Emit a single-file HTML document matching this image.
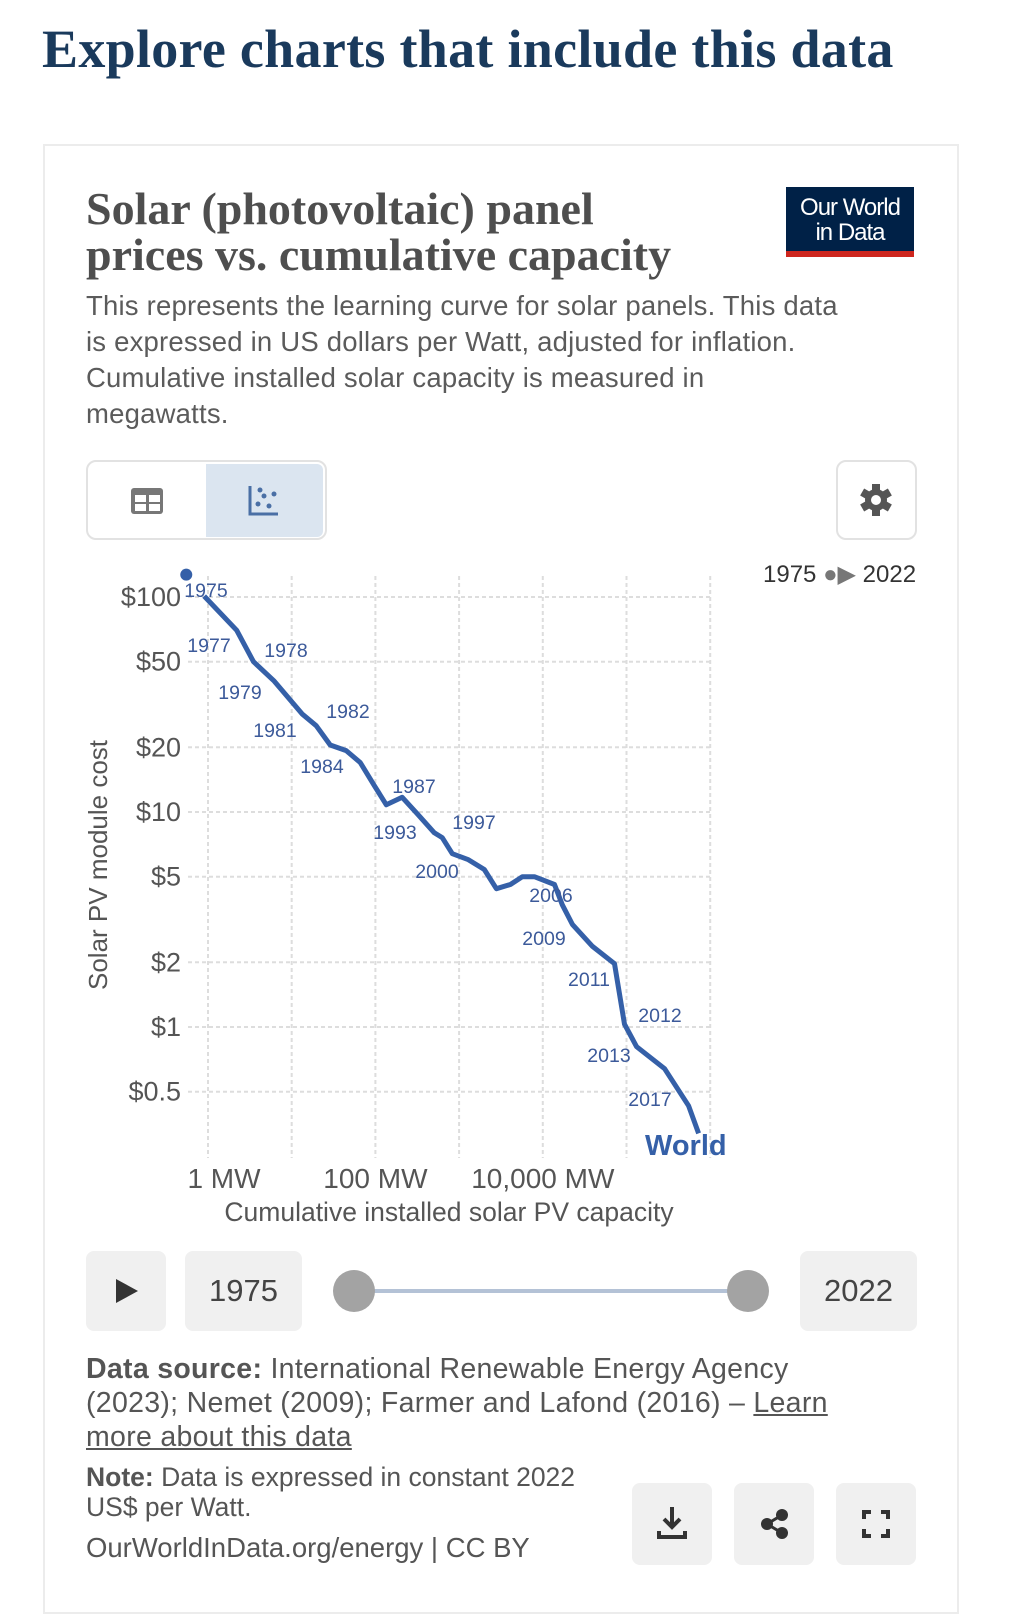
<!DOCTYPE html>
<html><head><meta charset="utf-8">
<style>
body{margin:0;width:1023px;height:1600px;overflow:hidden;background:#fff;font-family:"Liberation Sans",sans-serif;position:relative}
.abs{position:absolute}
.serif{font-family:"Liberation Serif",serif}
.box{position:absolute;border-radius:8px;background:#f0f0f0}
.btn{position:absolute;border:2px solid #e2e2e2;border-radius:10px;background:#fff;box-sizing:border-box}
</style></head><body>
<div class="abs serif" style="left:42px;top:18px;font-size:54px;letter-spacing:0.3px;font-weight:bold;color:#1a3a5c;white-space:nowrap">Explore charts that include this data</div>
<div class="abs" style="left:43px;top:144px;width:916px;height:1470px;border:2px solid #ececec;box-sizing:border-box"></div>
<div class="abs serif" style="left:86px;top:186px;font-size:46px;line-height:46px;color:#4e4e4e;font-weight:bold;white-space:nowrap">Solar (photovoltaic) panel<br>prices vs. cumulative capacity</div>
<div class="abs" style="left:786px;top:187px;width:128px;height:70px;background:#002147;border-bottom:6px solid #ce261e;box-sizing:border-box;color:#fff;font-size:24px;line-height:25px;text-align:center;padding-top:8px;letter-spacing:-1px">Our World<br>in Data</div>
<div class="abs" style="left:86px;top:288px;font-size:27.5px;letter-spacing:0.2px;line-height:36px;color:#5b5b5b;white-space:nowrap">This represents the learning curve for solar panels. This data<br>is expressed in US dollars per Watt, adjusted for inflation.<br>Cumulative installed solar capacity is measured in<br>megawatts.</div>
<div class="btn" style="left:86px;top:460px;width:241px;height:80px"></div>
<div class="abs" style="left:88px;top:462px;width:118px;height:76px">
<svg width="118" height="76"><rect x="43" y="26" width="32" height="26" rx="3" fill="#777"/><rect x="47" y="33" width="11" height="7" fill="#fff"/><rect x="61" y="33" width="11" height="7" fill="#fff"/><rect x="47" y="42" width="11" height="7" fill="#fff"/><rect x="61" y="42" width="11" height="7" fill="#fff"/></svg></div>
<div class="abs" style="left:206px;top:464px;width:117px;height:73px;background:#dbe5f0;border-radius:0 6px 6px 0">
<svg width="117" height="73"><path d="M44 22 V50 H72" stroke="#4a6fa5" stroke-width="3" fill="none"/><circle cx="52" cy="40" r="2.5" fill="#4a6fa5"/><circle cx="58" cy="32" r="2.5" fill="#4a6fa5"/><circle cx="63" cy="42" r="2.5" fill="#4a6fa5"/><circle cx="68" cy="30" r="2.5" fill="#4a6fa5"/><circle cx="54" cy="26" r="2.5" fill="#4a6fa5"/></svg></div>
<div class="btn" style="left:836px;top:460px;width:81px;height:80px">
<svg width="77" height="76" style="position:absolute;left:0;top:0"><g transform="translate(38,38)" fill="#555"><circle r="11"/><rect x="-4" y="-16" width="8" height="8"/><rect x="-4" y="-16" width="8" height="8" transform="rotate(60)"/><rect x="-4" y="-16" width="8" height="8" transform="rotate(120)"/><rect x="-4" y="-16" width="8" height="8" transform="rotate(180)"/><rect x="-4" y="-16" width="8" height="8" transform="rotate(240)"/><rect x="-4" y="-16" width="8" height="8" transform="rotate(300)"/><circle r="5" fill="#fff"/></g></svg></div>
<div class="abs" style="left:763px;top:560px;font-size:24px;color:#333;white-space:nowrap">1975 <span style="color:#777">●▶</span> 2022</div>

<svg class="abs" style="left:0;top:0" width="1023" height="1260" id="chart"></svg>

<div class="box" style="left:86px;top:1251px;width:80px;height:80px"><svg width="80" height="80"><path d="M30 28 L52 40 L30 52 Z" fill="#333"/></svg></div>
<div class="box" style="left:185px;top:1251px;width:117px;height:80px;font-size:31px;color:#444;text-align:center;line-height:80px">1975</div>
<div class="abs" style="left:354px;top:1289px;width:394px;height:4px;background:#b4c2d6"></div>
<div class="abs" style="left:333px;top:1270px;width:42px;height:42px;border-radius:50%;background:#a3a3a3"></div>
<div class="abs" style="left:727px;top:1270px;width:42px;height:42px;border-radius:50%;background:#a3a3a3"></div>
<div class="box" style="left:800px;top:1251px;width:117px;height:80px;font-size:31px;color:#444;text-align:center;line-height:80px">2022</div>
<div class="abs" style="left:86px;top:1352px;font-size:28.5px;letter-spacing:0.3px;line-height:34px;color:#555;white-space:nowrap"><b>Data source:</b> International Renewable Energy Agency<br>(2023); Nemet (2009); Farmer and Lafond (2016) – <span style="text-decoration:underline">Learn<br>more about this data</span></div>
<div class="abs" style="left:86px;top:1462px;font-size:26.5px;line-height:30px;color:#555;white-space:nowrap"><b>Note:</b> Data is expressed in constant 2022<br>US$ per Watt.</div>
<div class="abs" style="left:86px;top:1532px;font-size:27.5px;color:#555;white-space:nowrap">OurWorldInData.org/energy | CC BY</div>
<div class="box" style="left:632px;top:1483px;width:80px;height:82px"><svg width="80" height="82"><path d="M40 24 V44 M32 36 L40 44 L48 36 M27 48 V54 H53 V48" stroke="#333" stroke-width="4" fill="none"/></svg></div>
<div class="box" style="left:734px;top:1483px;width:80px;height:82px"><svg width="80" height="82"><path d="M48 32 L33 41 L48 50" stroke="#333" stroke-width="3" fill="none"/><circle cx="48" cy="32" r="6" fill="#333"/><circle cx="33" cy="41" r="6" fill="#333"/><circle cx="48" cy="50" r="6" fill="#333"/></svg></div>
<div class="box" style="left:836px;top:1483px;width:80px;height:82px"><svg width="80" height="82"><path d="M28 36 V29 H35 M45 29 H52 V36 M52 46 V53 H45 M35 53 H28 V46" stroke="#333" stroke-width="4" fill="none"/></svg></div>

<script>
const years=[1975,1976,1977,1978,1979,1980,1981,1982,1983,1984,1985,1986,1987,1988,1989,1990,1991,1992,1993,1994,1995,1996,1997,1998,1999,2000,2001,2002,2003,2004,2005,2006,2007];
const capacityMW=[0.55,0.9,2.2,3.5,6.2,13.3,19.6,28.8,44.8,65.8,96.8,135,209,325,505,629,830,1290,2000,2790,4100,5700,7940,13800,17100,22600,39200,71800,94600,132000,285000,552000,726000];
const priceUSD=[127,101,70,50,40.6,28.6,25.2,20.5,19.3,17.0,13.3,10.8,11.7,9.7,8.0,7.6,6.4,6.0,5.4,4.4,4.6,5.0,5.0,4.6,3.7,3.0,2.37,1.97,1.03,0.81,0.64,0.43,0.32];
const yTicks=[100,50,20,10,5,2,1,0.5];
const yTickLabels=["$100","$50","$20","$10","$5","$2","$1","$0.5"];
const xGrid=[1,10,100,1000,10000,100000,1000000];
const xTicks=[1,100,10000];
const xTickLabels=["1 MW","100 MW","10,000 MW"];
const yearLabels=[["1975",206,590],["1977",209,645],["1978",286,650],["1979",240,692],["1981",275,730],["1982",348,711],["1984",322,766],["1987",414,786],["1993",395,832],["1997",474,822],["2000",437,871],["2006",551,895],["2009",544,938],["2011",589,979],["2012",660,1015],["2013",609,1055],["2017",650,1099]];
const NS="http://www.w3.org/2000/svg";
const svg=document.getElementById('chart');
const X=v=>208+83.7*Math.log10(v);
const Y=v=>597+215*(2-Math.log10(v));
function el(t,a,txt){const e=document.createElementNS(NS,t);for(const k in a)e.setAttribute(k,a[k]);if(txt!=null)e.textContent=txt;svg.appendChild(e);return e;}
xGrid.forEach(v=>{const g=el('line',{x1:X(v),x2:X(v),y1:576,y2:1158,stroke:'#ddd','stroke-width':2,'stroke-dasharray':'4,3'});

});
yTicks.forEach((v,i)=>{const g=el('line',{x1:188,x2:712,y1:Y(v),y2:Y(v),stroke:'#ddd','stroke-width':2,'stroke-dasharray':'4,3'});


const t=el('text',{x:181,y:Y(v)+9,'text-anchor':'end','font-size':27,fill:'#555'},yTickLabels[i]);

});
xTicks.forEach((v,i)=>{const t=el('text',{x:i==0?224:X(v),y:1188,'text-anchor':'middle','font-size':28,fill:'#555'},xTickLabels[i]);

});
let t=el('text',{x:449,y:1221,'text-anchor':'middle','font-size':26.5,fill:'#555'},'Cumulative installed solar PV capacity');


t=el('text',{x:0,y:0,transform:'translate(107,865) rotate(-90)','text-anchor':'middle','font-size':26,fill:'#555'},'Solar PV module cost');


const d=capacityMW.slice(1).map((c,i)=>(i?'L':'M')+X(c).toFixed(1)+' '+Y(priceUSD[i+1]).toFixed(1)).join(' ');
const p=el('path',{d:d,stroke:'#3560a8','stroke-width':5,fill:'none','stroke-linejoin':'round'});


const c=el('circle',{cx:X(capacityMW[0]),cy:Y(priceUSD[0]),r:6,fill:'#3560a8'});


yearLabels.forEach(l=>{const e=el('text',{x:l[1],y:l[2]+7,'text-anchor':'middle','font-size':19.5,fill:'#3c5a9a'},l[0]);

});
t=el('text',{x:645,y:1155,'font-size':29,'font-weight':'bold',fill:'#3560a8'},'World');


</script>
</body></html>
